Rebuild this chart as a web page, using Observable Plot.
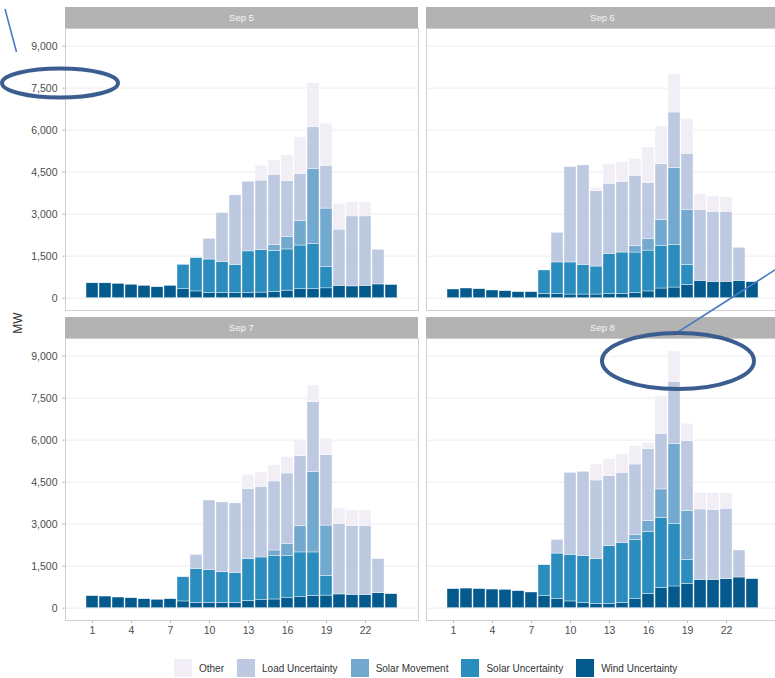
<!DOCTYPE html>
<html>
<head>
<meta charset="utf-8">
<script src="https://cdn.jsdelivr.net/npm/d3@7"></script>
<script src="https://cdn.jsdelivr.net/npm/@observablehq/plot@0.6"></script>
<style>
  html, body { margin: 0; padding: 0; background: #fff; }
  #page { position: relative; width: 775px; height: 678px; overflow: hidden; font-family: "Liberation Sans", Arial, sans-serif; }
  .panel { position: absolute; }
  .panel svg { background: transparent; max-width: none !important; display: block; }
  #ylabel { position: absolute; left: 18px; top: 323px; transform: translate(-50%, -50%) rotate(-90deg); font-size: 12px; color: #333; white-space: nowrap; }
  #legend { position: absolute; left: 174px; top: 659px; display: flex; align-items: center; font-size: 10px; color: #333; white-space: nowrap; }
  #legend .item { display: flex; align-items: center; margin-right: 13px; }
  #legend .swatch { width: 18px; height: 18px; margin-right: 7px; }
  #notes { position: absolute; left: 0; top: 0; pointer-events: none; }
</style>
</head>
<body>
<div id="page">
  <div id="ylabel">MW</div>
  <div id="legend"></div>
  <svg id="notes" width="775" height="678"></svg>
</div>
<script>
// Hour of day (x categories) and labelled ticks
const hours = [1, 2, 3, 4, 5, 6, 7, 8, 9, 10, 11, 12, 13, 14, 15, 16, 17, 18, 19, 20, 21, 22, 23, 24];
const xTicks = [1, 4, 7, 10, 13, 16, 19, 22];
const yTicks = [0, 1500, 3000, 4500, 6000, 7500, 9000];
const days = ["Sep 5", "Sep 6", "Sep 7", "Sep 8"];

// Legend order (top of stack first) and PuBu palette
const seriesNames = ["Other", "Load Uncertainty", "Solar Movement", "Solar Uncertainty", "Wind Uncertainty"];
const seriesColors = ["#f1eef6", "#bdc9e1", "#74a9cf", "#2b8cbe", "#045a8d"];

// Sep 5 (MW per hour)
const wind5   = [530, 530, 510, 480, 440, 390, 440, 320, 240, 180, 180, 180, 180, 200, 230, 270, 320, 320, 350, 440, 420, 440, 490, 470];
const solarU5 = [0, 0, 0, 0, 0, 0, 0, 870, 1190, 1200, 1110, 1010, 1490, 1510, 1460, 1470, 1560, 1610, 770, 0, 0, 0, 0, 0];
const solarM5 = [0, 0, 0, 0, 0, 0, 0, 0, 0, 0, 0, 0, 0, 0, 210, 450, 880, 2690, 2080, 0, 0, 0, 0, 0];
const load5   = [0, 0, 0, 0, 0, 0, 0, 0, 0, 740, 1750, 2480, 2490, 2490, 2510, 1990, 1680, 1490, 1530, 2010, 2500, 2480, 1240, 0];
const other5  = [0, 0, 0, 0, 0, 0, 0, 0, 0, 0, 0, 0, 0, 530, 520, 920, 1300, 1570, 1500, 910, 510, 510, 0, 0];

// Sep 6
const wind6   = [310, 345, 320, 275, 250, 215, 215, 155, 145, 130, 130, 130, 145, 155, 180, 240, 345, 380, 475, 620, 585, 585, 620, 570];
const solarU6 = [0, 0, 0, 0, 0, 0, 0, 835, 1130, 1145, 1060, 1000, 1440, 1475, 1450, 1460, 1510, 1515, 715, 0, 0, 0, 0, 0];
const solarM6 = [0, 0, 0, 0, 0, 0, 0, 0, 0, 0, 0, 0, 0, 0, 240, 405, 945, 2750, 1965, 0, 0, 0, 0, 0];
const load6   = [0, 0, 0, 0, 0, 0, 0, 0, 1060, 3405, 3550, 2690, 2500, 2525, 2500, 2000, 1985, 1985, 2000, 2525, 2500, 2500, 1180, 0];
const other6  = [0, 0, 0, 0, 0, 0, 0, 0, 0, 0, 0, 120, 690, 700, 605, 1275, 1345, 1360, 1250, 580, 545, 520, 0, 0];

// Sep 7
const wind7   = [430, 415, 380, 355, 320, 300, 320, 240, 190, 190, 190, 190, 260, 285, 310, 355, 395, 440, 450, 490, 475, 475, 535, 500];
const solarU7 = [0, 0, 0, 0, 0, 0, 0, 865, 1215, 1165, 1095, 1070, 1490, 1525, 1545, 1500, 1595, 1550, 705, 0, 0, 0, 0, 0];
const solarM7 = [0, 0, 0, 0, 0, 0, 0, 0, 0, 0, 0, 0, 0, 0, 205, 445, 940, 2865, 1795, 0, 0, 0, 0, 0];
const load7   = [0, 0, 0, 0, 0, 0, 0, 0, 500, 2490, 2490, 2480, 2510, 2525, 2465, 2510, 2500, 2500, 2515, 2520, 2465, 2465, 1215, 0];
const other7  = [0, 0, 0, 0, 0, 0, 0, 0, 0, 0, 0, 0, 500, 510, 580, 585, 580, 595, 585, 560, 550, 550, 0, 0];

// Sep 8
const wind8   = [680, 700, 680, 665, 655, 605, 560, 430, 335, 240, 180, 155, 155, 190, 320, 510, 725, 775, 870, 1010, 1010, 1035, 1095, 1035];
const solarU8 = [0, 0, 0, 0, 0, 0, 0, 1105, 1615, 1665, 1675, 1605, 2060, 2145, 2120, 2215, 2500, 2235, 845, 0, 0, 0, 0, 0];
const solarM8 = [0, 0, 0, 0, 0, 0, 0, 0, 0, 0, 0, 0, 0, 0, 180, 380, 1015, 2860, 1760, 0, 0, 0, 0, 0];
const load8   = [0, 0, 0, 0, 0, 0, 0, 0, 490, 2930, 3015, 2800, 2500, 2500, 2510, 2575, 1985, 2215, 2490, 2515, 2500, 2515, 965, 0];
const other8  = [0, 0, 0, 0, 0, 0, 0, 0, 0, 0, 0, 570, 605, 655, 655, 215, 1335, 1080, 620, 595, 595, 555, 0, 0];

// Per-day series, listed bottom of the stack first
const dayStacks = [
  [wind5, solarU5, solarM5, load5, other5],
  [wind6, solarU6, solarM6, load6, other6],
  [wind7, solarU7, solarM7, load7, other7],
  [wind8, solarU8, solarM8, load8, other8]
];
const stackOrder = seriesNames.slice().reverse();

function rowsFor(stack) {
  const rows = [];
  stack.forEach((vals, s) => {
    vals.forEach((v, i) => {
      if (v > 0) rows.push({hour: hours[i], series: stackOrder[s], value: v});
    });
  });
  return rows;
}

// Grey facet strip drawn in the top margin of each panel
function strip(label) {
  return (index, scales, values, dim) => {
    const g = d3.create("svg:g");
    const x0 = dim.marginLeft;
    const w = dim.width - dim.marginLeft - dim.marginRight;
    g.append("rect")
      .attr("x", x0).attr("y", dim.marginTop - 21)
      .attr("width", w).attr("height", 21)
      .attr("fill", "#b3b3b3");
    g.append("text")
      .attr("x", x0 + w / 2).attr("y", dim.marginTop - 10.5)
      .attr("text-anchor", "middle").attr("dy", "0.35em")
      .attr("fill", "#f5f5f5").attr("font-size", 9.5)
      .text(label);
    return g.node();
  };
}

const page = document.getElementById("page");
const panelW = 353, panelH = 282;

days.forEach((day, k) => {
  const col = k % 2, row = Math.floor(k / 2);
  const isLeft = col === 0, isBottom = row === 1;
  const marginLeft = isLeft ? 65 : 4;
  const marginRight = 4;
  const marginTop = 28;
  const marginBottom = isBottom ? 30 : 2;
  const width = marginLeft + panelW + marginRight;
  const height = marginTop + panelH + marginBottom;

  const marks = [
    Plot.gridY(yTicks, {stroke: "#e8e8e8", strokeOpacity: 1, strokeWidth: 0.8}),
    Plot.barY(rowsFor(dayStacks[k]), {
      x: "hour", y: "value", fill: "series", order: stackOrder,
      stroke: "white", strokeWidth: 0.4
    }),
    Plot.frame({stroke: "#cfcfcf", strokeWidth: 1}),
    strip(day)
  ];
  if (isLeft) marks.push(Plot.axisY({
    ticks: yTicks, tickFormat: d3.format(","), tickSize: 3, tickPadding: 5,
    stroke: "#bdbdbd", fill: "#4d4d4d", fontSize: 10.5, label: null
  }));
  if (isBottom) marks.push(Plot.axisX({
    ticks: xTicks, tickSize: 3, tickPadding: 3,
    stroke: "#bdbdbd", fill: "#4d4d4d", fontSize: 10.5, label: null
  }));

  const chart = Plot.plot({
    width, height,
    marginLeft, marginRight, marginTop, marginBottom,
    style: {fontFamily: "Liberation Sans, Arial, sans-serif", fontSize: "10.5px", background: "transparent", overflow: "visible", maxWidth: "none"},
    x: {type: "band", domain: hours, paddingInner: 0.1, paddingOuter: 1.15, label: null, ...(isBottom ? {} : {axis: null})},
    y: {domain: [-440, 9630], label: null, ...(isLeft ? {} : {axis: null})},
    color: {domain: seriesNames, range: seriesColors},
    marks
  });

  const holder = document.createElement("div");
  holder.className = "panel";
  holder.style.left = (isLeft ? 0 : 422) + "px";
  holder.style.top = (isBottom ? 310 : 0) + "px";
  holder.style.width = width + "px";
  holder.style.height = height + "px";
  holder.appendChild(chart);
  page.insertBefore(holder, document.getElementById("notes"));
});

// Legend
const legend = document.getElementById("legend");
seriesNames.forEach((name, i) => {
  const item = document.createElement("div");
  item.className = "item";
  const sw = document.createElement("div");
  sw.className = "swatch";
  sw.style.background = seriesColors[i];
  const label = document.createElement("span");
  label.textContent = name;
  item.appendChild(sw);
  item.appendChild(label);
  legend.appendChild(item);
});

// Hand-drawn callouts over the panels
const callEllipses = [
  {cx: 60, cy: 83, rx: 58, ry: 14.5},
  {cx: 678, cy: 361, rx: 76, ry: 28}
];
const callLines = [
  {x1: 5, y1: 9, x2: 16.5, y2: 52},
  {x1: 678, y1: 332, x2: 778, y2: 268}
];
const notes = d3.select("#notes");
notes.selectAll("line").data(callLines).join("line")
  .attr("x1", d => d.x1).attr("y1", d => d.y1)
  .attr("x2", d => d.x2).attr("y2", d => d.y2)
  .attr("stroke", "#4a7cc0").attr("stroke-width", 1.6);
notes.selectAll("ellipse").data(callEllipses).join("ellipse")
  .attr("cx", d => d.cx).attr("cy", d => d.cy)
  .attr("rx", d => d.rx).attr("ry", d => d.ry)
  .attr("fill", "none").attr("stroke", "#3b5d8f").attr("stroke-width", 4);
</script>
</body>
</html>
